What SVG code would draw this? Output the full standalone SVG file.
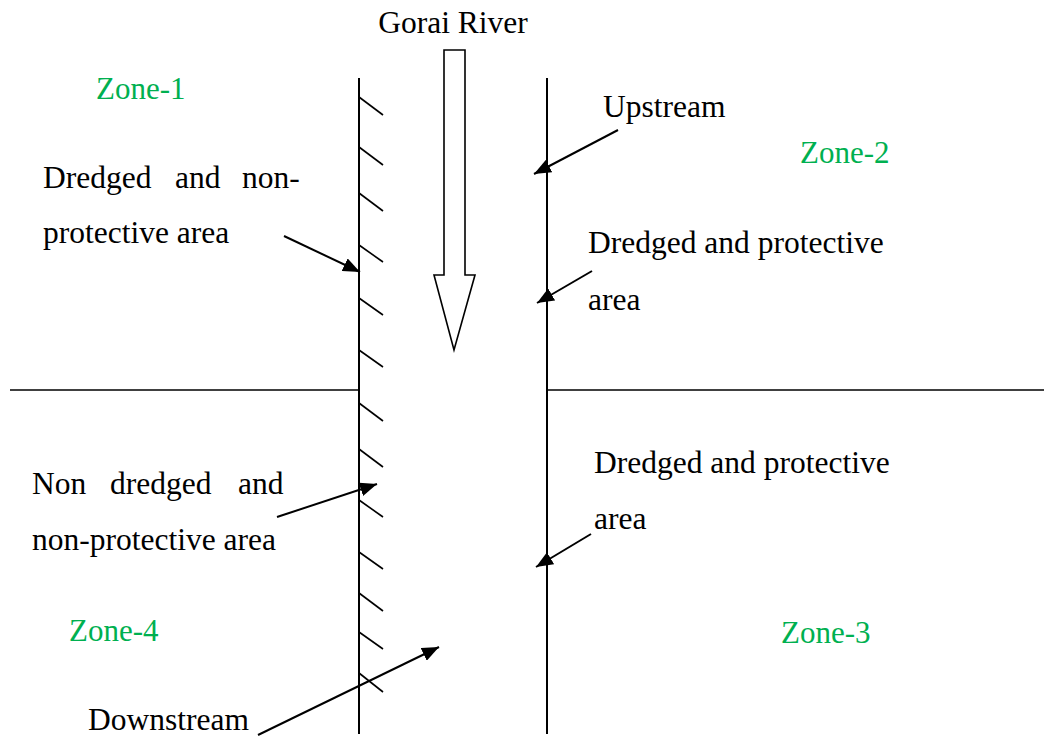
<svg xmlns="http://www.w3.org/2000/svg" width="1044" height="736" viewBox="0 0 1044 736">
<defs>
<style>
.t{font-family:"Liberation Serif","Times New Roman",serif;font-size:31.5px;fill:#000}
.z{font-family:"Liberation Serif","Times New Roman",serif;font-size:31px;fill:#00B050}
.bank{stroke:#000;stroke-width:2;fill:none}
.hz{stroke:#000;stroke-width:1.6;fill:none}
.hatch{stroke:#000;stroke-width:1.6;fill:none}
.arr{stroke:#000;stroke-width:2;fill:none;marker-end:url(#ah)}
</style>
<marker id="ah" markerUnits="userSpaceOnUse" markerWidth="18" markerHeight="14" refX="17" refY="7" orient="auto">
<path d="M0,0 L17,7 L0,14 z" fill="#000"/>
</marker>
</defs>
<rect width="1044" height="736" fill="#fff"/>
<g id="river">
<line class="bank" x1="359" y1="78" x2="359" y2="734"/>
<line class="bank" x1="547" y1="78" x2="547" y2="734"/>
<line class="hz" x1="10" y1="390" x2="359" y2="390"/>
<line class="hz" x1="547" y1="390" x2="1044" y2="390"/>
<g class="hatch">
<line x1="359" y1="97" x2="383" y2="115"/>
<line x1="359" y1="147" x2="383" y2="165"/>
<line x1="359" y1="193" x2="383" y2="211"/>
<line x1="359" y1="245" x2="383" y2="262"/>
<line x1="359" y1="298" x2="383" y2="315"/>
<line x1="359" y1="350" x2="383" y2="367"/>
<line x1="359" y1="403" x2="383" y2="421"/>
<line x1="359" y1="449" x2="383" y2="467"/>
<line x1="359" y1="500" x2="383" y2="517"/>
<line x1="359" y1="552" x2="383" y2="569"/>
<line x1="359" y1="593" x2="383" y2="611"/>
<line x1="359" y1="632" x2="383" y2="649"/>
<line x1="359" y1="673" x2="383" y2="692"/>
</g>
</g>
<g id="gorai-river">
<text class="t" x="453" y="33" text-anchor="middle">Gorai River</text>
<polygon points="444,50 465,50 465,275 475,275 454,350 434,275 444,275" fill="#fff" stroke="#000" stroke-width="1.6"/>
</g>
<g id="zone-1"><text class="z" x="96" y="99">Zone-1</text></g>
<g id="zone-2"><text class="z" x="800" y="163">Zone-2</text></g>
<g id="zone-3"><text class="z" x="781" y="643">Zone-3</text></g>
<g id="zone-4"><text class="z" x="69" y="641">Zone-4</text></g>
<g id="label-dredged-nonprotective">
<text class="t" y="188"><tspan x="43">Dredged</tspan><tspan x="175">and</tspan><tspan x="242">non-</tspan></text>
<text class="t" x="43" y="243">protective area</text>
</g>
<g id="label-upstream"><text class="t" x="603" y="117">Upstream</text></g>
<g id="label-dredged-protective-1">
<text class="t" x="588" y="253">Dredged and protective</text>
<text class="t" x="588" y="310">area</text>
</g>
<g id="label-non-dredged">
<text class="t" y="494"><tspan x="32">Non</tspan><tspan x="110">dredged</tspan><tspan x="238">and</tspan></text>
<text class="t" x="32" y="550">non-protective area</text>
</g>
<g id="label-dredged-protective-2">
<text class="t" x="594" y="473">Dredged and protective</text>
<text class="t" x="594" y="529">area</text>
</g>
<g id="label-downstream"><text class="t" x="88" y="730">Downstream</text></g>
<g id="connectors">
<line class="arr" x1="284" y1="236" x2="360" y2="272"/>
<line class="arr" x1="618" y1="130" x2="534" y2="174"/>
<line class="arr" x1="592" y1="271" x2="537" y2="303"/>
<line class="arr" x1="277" y1="517" x2="377" y2="484"/>
<line class="arr" x1="591" y1="534" x2="536" y2="567"/>
<line class="arr" x1="258" y1="735" x2="439" y2="647"/>
</g>
</svg>
